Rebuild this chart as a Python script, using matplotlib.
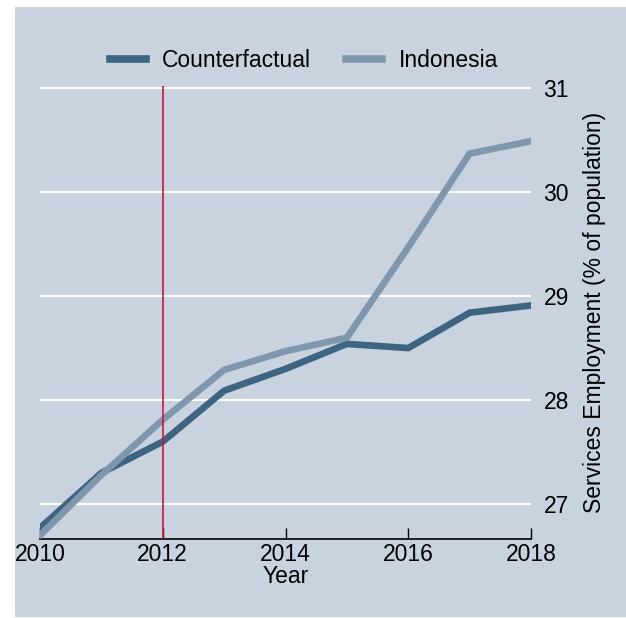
import matplotlib.pyplot as plt
from matplotlib.patches import Rectangle

# services employment, share of population
years = [2010, 2011, 2012, 2013, 2014, 2015, 2016, 2017, 2018]
counterfactual = [26.77, 27.30, 27.60, 28.09, 28.30, 28.54, 28.50, 28.84, 28.91]
indonesia = [26.70, 27.28, 27.81, 28.29, 28.47, 28.60, 29.47, 30.37, 30.49]

xticks = [2010, 2012, 2014, 2016, 2018]
yticks = [27, 28, 29, 30, 31]
treat_year = 2012

bg = '#c8d3df'
fs = 16.5
plt.rcParams['font.family'] = ['Liberation Sans', 'DejaVu Sans']

fig = plt.figure(figsize=(6.26, 6.18), dpi=100)
fig.patch.set_facecolor('white')
# shaded graph region, leaving a thin white strip at top and left
fig.patches.append(Rectangle((15 / 626, 1 / 618), 611 / 626, 610 / 618,
                             transform=fig.transFigure, facecolor=bg,
                             edgecolor='none', zorder=-5))

ax = fig.add_axes([40 / 626, 79 / 618, 491 / 626, 453 / 618])
ax.set_facecolor(bg)

ax.plot(years, counterfactual, color='#3d6480', lw=4.8, label='Counterfactual',
        solid_joinstyle='miter', zorder=3)
ax.plot(years, indonesia, color='#7f97ad', lw=4.8, label='Indonesia',
        solid_joinstyle='miter', zorder=3)
ax.axvline(treat_year, color='#c8183c', lw=1.2, zorder=4)

ax.set_xlim(2010, 2018)
ax.set_ylim(26.664, 31.02)
ax.set_xticks(xticks)
ax.set_yticks(yticks)
ax.yaxis.tick_right()
ax.yaxis.set_label_position('right')
ax.tick_params(axis='y', length=0, pad=9, labelsize=fs)
ax.tick_params(axis='x', length=8, width=1, direction='in', pad=3, labelsize=fs)
ax.grid(axis='y', color='white', lw=1.5, zorder=1)
for s in ['top', 'left', 'right']:
    ax.spines[s].set_visible(False)
ax.spines['bottom'].set_linewidth(1.2)

ax.set_xlabel('Year', fontsize=fs, labelpad=-1)
ax.set_ylabel('Services Employment (% of population)', fontsize=fs, labelpad=10)

leg = ax.legend(loc='lower center', bbox_to_anchor=(0.537, 0.985), ncol=2,
                frameon=False, fontsize=fs, handlelength=1.6, columnspacing=1.5,
                handletextpad=0.7)
for line in leg.get_lines():
    line.set_linewidth(5.5)

fig.savefig('out.png', dpi=100)
